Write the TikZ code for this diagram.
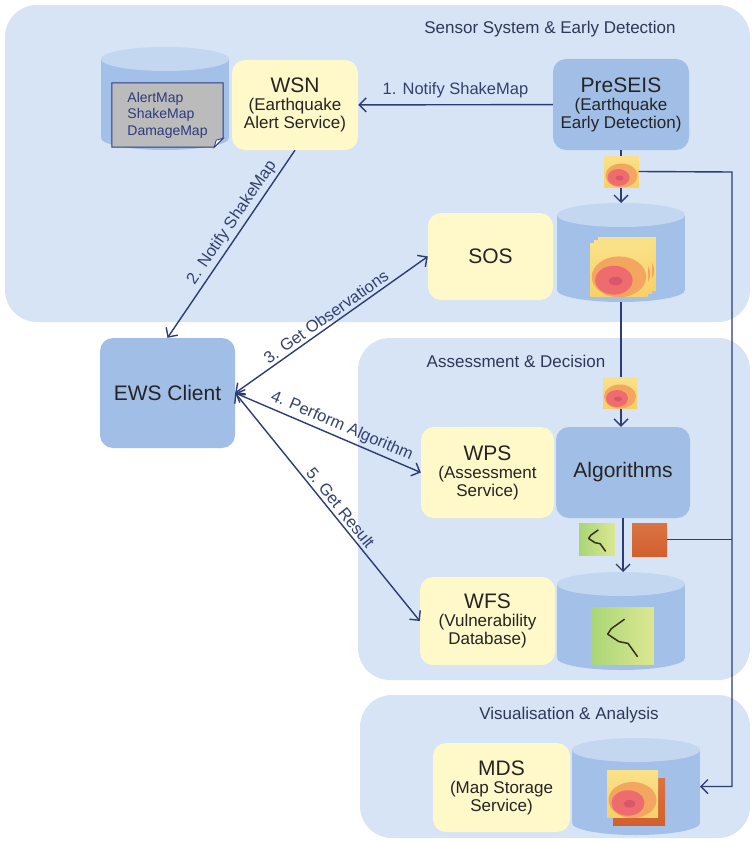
\documentclass[tikz,border=0pt]{standalone}
\usepackage{fontspec}
\setmainfont{Liberation Sans}
\usetikzlibrary{arrows.meta}

\definecolor{panelblue}{HTML}{D6E4F6}
\definecolor{boxblue}{HTML}{A1BFE6}
\definecolor{boxyellow}{HTML}{FFF8C9}
\definecolor{drumtopc}{HTML}{C3D7F0}
\definecolor{drumbodyc}{HTML}{A3C1E8}
\definecolor{linkblue}{HTML}{2C3C74}
\definecolor{labelblue}{HTML}{34416F}
\definecolor{titledark}{HTML}{2F3758}
\definecolor{textdark}{HTML}{242424}
\definecolor{docgray}{HTML}{BBBBBB}
\definecolor{docblue}{HTML}{2E3A7E}
\definecolor{mapyellow}{HTML}{F7D168}
\definecolor{mapyellowlt}{HTML}{FAE188}
\definecolor{maporange}{HTML}{F3A660}
\definecolor{mapred}{HTML}{EE6B6E}
\definecolor{mapcore}{HTML}{D8576C}
\definecolor{mapbrown}{HTML}{D2602E}
\definecolor{mapbrownlt}{HTML}{DA7444}
\definecolor{mapgreen}{HTML}{A9D676}
\definecolor{mapgreenlt}{HTML}{DCE792}
\definecolor{trackdark}{HTML}{3A3020}

\newcommand\svcname[1]{{\fontsize{21}{23}\selectfont #1}}

\begin{document}
\begin{tikzpicture}[x=1pt, y=-1pt,
  panel/.style={fill=panelblue, rounded corners=32pt},
  paneltitle/.style={font=\fontsize{17}{19}\selectfont, text=titledark, inner sep=0pt},
  svc/.style={rounded corners=13pt, align=center, text=textdark, inner sep=0pt,
    font=\fontsize{17}{18}\selectfont},
  yellowbox/.style={svc, fill=boxyellow},
  bluebox/.style={svc, fill=boxblue},
  drum/.style={minimum width=128pt, minimum height=#1, inner sep=0pt, outer sep=0pt,
    path picture={
      \fill[drumbodyc] ([yshift=-12pt]path picture bounding box.north west)
        rectangle ([yshift=12pt]path picture bounding box.south east);
      \fill[drumbodyc] ([yshift=12pt]path picture bounding box.south)
        ellipse [x radius=64pt, y radius=12pt];
      \fill[drumtopc] ([yshift=-12pt]path picture bounding box.north)
        ellipse [x radius=64pt, y radius=12pt];
    }},
  quake/.style={inner sep=0pt, outer sep=0pt, minimum width=#1*34pt, minimum height=#1*31pt,
    path picture={
      \begin{scope}[shift={(path picture bounding box.center)}, x=#1pt, y=-#1pt]
        \shade[top color=mapyellowlt, bottom color=mapyellow] (-17,-15.5) rectangle (17,15.5);
        \fill[maporange] (0,4) ellipse [x radius=16, y radius=12];
        \fill[mapred] (-3,6) ellipse [x radius=11, y radius=8.5];
        \fill[mapcore] (-2,6.5) ellipse [x radius=4, y radius=2.5];
      \end{scope}
    }},
  greenmap/.style={inner sep=0pt, outer sep=0pt, minimum width=#1*34pt, minimum height=#1*31pt,
    path picture={
      \begin{scope}[shift={(path picture bounding box.center)}, x=#1pt, y=-#1pt]
        \shade[left color=mapgreen, right color=mapgreenlt] (-17,-15.5) rectangle (17,15.5);
        \draw[trackdark, line width=1.5pt, line cap=round, line join=round]
          (1,-9) -- (-6,-4) -- (-8,-1) -- (-2,3) -- (3,4) -- (8,11);
      \end{scope}
    }},
  brownmap/.style={inner sep=0pt, outer sep=0pt, shade, top color=mapbrownlt, bottom color=mapbrown},
  docnote/.style={inner sep=0pt, minimum width=111pt, minimum height=64pt, align=left,
    text=docblue, font=\fontsize{14}{16.5}\selectfont},
  link/.style={draw=linkblue, line width=1.4pt, -{Straight Barb[length=7pt,width=14pt]}},
  twoway/.style={link, {Straight Barb[length=7pt,width=14pt]}-{Straight Barb[length=7pt,width=14pt]}},
  plainlink/.style={draw=linkblue, line width=1.4pt},
  lab/.style={font=\fontsize{16.5}{18}\selectfont, text=labelblue, inner sep=3pt}
]
\useasboundingbox (0,0) rectangle (753,843);

% ---- panels ----
\fill[panel] (5,5) rectangle (750,322);
\fill[panel] (358,338) rectangle (750,680);
\fill[panel] (360,695) rectangle (750,838);
\node[paneltitle] (t1) at (550,29) {Sensor System \& Early Detection};
\node[paneltitle] (t2) at (516,361) {Assessment \& Decision};
\node[paneltitle] (t3) at (569,715) {Visualisation \& Analysis};

% ---- sensor system ----
\node[drum=103pt] (store) at (165,98.5) {};
\node[docnote] (doc) at (167.5,115) {};
\fill[docgray, draw=docblue, line width=1pt]
  (doc.north west) -- (doc.north east) -- ([yshift=9pt]doc.south east)
  -- ([xshift=-9pt]doc.south east) -- (doc.south west) -- cycle;
\fill[white!85!docgray, draw=docblue, line width=0.8pt]
  ([yshift=9pt]doc.south east) -- ([xshift=-9pt]doc.south east)
  -- ([xshift=-7pt,yshift=7pt]doc.south east) -- cycle;
\node[docnote, minimum width=0pt, minimum height=0pt] (doctext) at (doc.center)
  {AlertMap\\ShakeMap\\DamageMap};

\node[yellowbox, minimum width=126pt, minimum height=90pt] (wsn) at (295,105)
  {\svcname{WSN}\\(Earthquake\\Alert Service)};
\node[bluebox, minimum width=136pt, minimum height=91pt] (preseis) at (621,104.5)
  {\svcname{PreSEIS}\\(Earthquake\\Early Detection)};
\node[yellowbox, minimum width=125pt, minimum height=87pt] (sos) at (490.5,256.5)
  {\svcname{SOS}};
\node[drum=99pt] (soscyl) at (621,252.5) {};

% ---- client ----
\node[bluebox, minimum width=135pt, minimum height=110pt] (ews) at (167.5,393)
  {\svcname{EWS Client}};

% ---- assessment & decision ----
\node[yellowbox, minimum width=133pt, minimum height=91pt] (wps) at (487.5,472.5)
  {\svcname{WPS}\\(Assessment\\Service)};
\node[bluebox, minimum width=134pt, minimum height=91pt] (alg) at (623,472.5)
  {\svcname{Algorithms}};
\node[yellowbox, minimum width=135pt, minimum height=88pt] (wfs) at (487.5,621)
  {\svcname{WFS}\\(Vulnerability\\Database)};
\node[drum=98pt] (wfscyl) at (621,621) {};

% ---- visualisation & analysis ----
\node[yellowbox, minimum width=137pt, minimum height=89pt] (mds) at (501.5,787.5)
  {\svcname{MDS}\\(Map Storage\\Service)};
\node[drum=97pt] (mdscyl) at (636,786.5) {};

% ---- connectors ----
\coordinate (bus) at (732,172);
\draw[link] (preseis) -- node[lab, above, inner sep=6pt] {1. Notify ShakeMap} (wsn);
\draw[link] (wsn.south) -- node[lab, sloped, above, pos=0.42] {2. Notify ShakeMap} (ews.north);
\draw[twoway] (ews.east) -- node[lab, sloped, above, pos=0.5] {3. Get Observations} (sos.west);
\draw[twoway] (ews.east) -- node[lab, sloped, above, pos=0.55] {4. Perform Algorithm} (wps.west);
\draw[twoway] (ews.east) -- node[lab, sloped, above, pos=0.53] {5. Get Result} (wfs.west);
\draw[link] (preseis.south) -- (soscyl.north);
\draw[link] (soscyl.south) -- (soscyl.south |- alg.north);
\draw[link] (alg.south) -- (alg.south |- wfscyl.north);

% ---- map products ----
\node[quake=1] (q1) at (621.5,171.5) {};
\node[quake=1] (q2) at (620,392.5) {};
\node[greenmap=1.05] (g1) at (597,539.5) {};
\node[brownmap, minimum width=35pt, minimum height=33pt] (b1) at (649.5,539.5) {};
\draw[link] (q1.east) -- (bus) -- (bus |- mdscyl.east) -- (mdscyl.east);
\draw[plainlink] (b1.east) -- (b1.east -| bus);

% stacked observation maps in the SOS store
\node[quake=1.7] (s3) at (627,264) {};
\node[quake=1.7] (s2) at (623,267) {};
\node[quake=1.7] (s1) at (619,270) {};
% vulnerability map in the WFS store
\node[greenmap=1.85] (g2) at (622.5,636) {};
% stored maps in the MDS store
\node[brownmap, minimum width=52pt, minimum height=47pt] (b2) at (639,801.5) {};
\node[quake=1.5] (m1) at (632.5,794) {};
\end{tikzpicture}
\end{document}
